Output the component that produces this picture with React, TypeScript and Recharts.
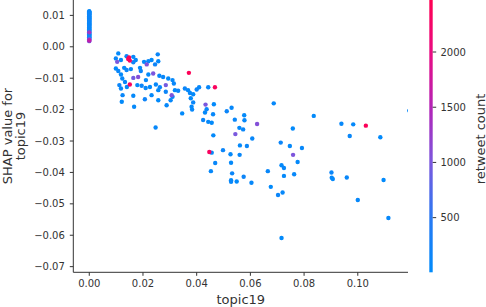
import React from "react";
import { ScatterChart, Scatter, XAxis, YAxis } from "recharts";

// rows with topic19 == 0 (the vertical stripe on the left)
const zeroShap = [
  0.0113, 0.0112, 0.011, 0.0109, 0.0107, 0.0106, 0.0104, 0.0102, 0.0101, 0.0099,
  0.0097, 0.0096, 0.0094, 0.0092, 0.0091, 0.0089, 0.0087, 0.0086, 0.0084, 0.0082,
  0.008, 0.0079, 0.0077, 0.0075, 0.0073, 0.0071, 0.007, 0.0068, 0.0066, 0.0064,
  0.0062, 0.006, 0.0058, 0.0056, 0.0054, 0.0052, 0.005, 0.0048, 0.0046, 0.0044,
  0.0042, 0.004, 0.0038, 0.0036, 0.0034, 0.0032, 0.003, 0.0028, 0.0026, 0.0024,
  0.0022, 0.002, 0.0018,
];
const zeroRetweets = [
  40, 85, 120, 60, 30, 150, 75, 95, 50, 110,
  65, 140, 35, 90, 55, 125, 70, 45, 160, 80,
  100, 38, 130, 62, 88, 47, 115, 73, 28, 135,
  58, 92, 42, 105, 68, 145, 33, 86, 1300, 52,
  118, 77, 39, 98, 64, 155, 83, 49, 112, 900,
  1200, 1600, 900,
];

// rows with topic19 > 0
const topic19 = [
  0.0108, 0.0099, 0.0104, 0.0118, 0.0139, 0.0145, 0.0151, 0.0148, 0.0164, 0.0173,
  0.0164, 0.0204, 0.0214, 0.022, 0.0232, 0.0255, 0.0257, 0.0245, 0.0099, 0.0108,
  0.013, 0.0139, 0.0155, 0.0189, 0.0192, 0.0118, 0.0123, 0.0133, 0.0164, 0.0182,
  0.022, 0.0238, 0.0261, 0.0275, 0.0294, 0.031, 0.0285, 0.0307, 0.0315, 0.0151,
  0.0179, 0.0195, 0.021, 0.0226, 0.0248, 0.0112, 0.014, 0.0118, 0.0257, 0.0285,
  0.0232, 0.031, 0.0257, 0.0288, 0.0124, 0.0164, 0.0207, 0.0121, 0.0167, 0.0356,
  0.0346, 0.0247, 0.0211, 0.0263, 0.0319, 0.0303, 0.0331, 0.0371, 0.0368, 0.0375,
  0.0387, 0.04, 0.0409, 0.0443, 0.0468, 0.0378, 0.0387, 0.0381, 0.0383, 0.0433,
  0.0437, 0.0431, 0.0464, 0.0461, 0.0424, 0.0443, 0.0456, 0.0512, 0.053, 0.0542,
  0.0577, 0.0578, 0.0625, 0.0559, 0.0573, 0.0544, 0.0462, 0.0607, 0.0687, 0.0758,
  0.0713, 0.0747, 0.0792, 0.0561, 0.0587, 0.0836, 0.0939, 0.0983, 0.103, 0.097,
  0.1084, 0.1192, 0.0498, 0.0526, 0.056, 0.0447, 0.0456, 0.0759, 0.0469, 0.0528,
  0.0453, 0.0532, 0.0528, 0.0528, 0.0549, 0.0575, 0.0604, 0.0665, 0.0676, 0.0716,
  0.0725, 0.0725, 0.072, 0.0703, 0.0776, 0.0763, 0.0716, 0.0902, 0.0903, 0.0907,
  0.0959, 0.1, 0.1096, 0.1114,
];
const shapValues = [
  -0.0021, -0.0037, -0.0048, -0.0042, -0.003, -0.0039, -0.0044, -0.0034, -0.0032, -0.0042,
  -0.0049, -0.0048, -0.0056, -0.0046, -0.0042, -0.0024, -0.0046, -0.0056, -0.0069, -0.0077,
  -0.0067, -0.0074, -0.0071, -0.0067, -0.0077, -0.0088, -0.0101, -0.0112, -0.0099, -0.0096,
  -0.0088, -0.0085, -0.0092, -0.0096, -0.0101, -0.0106, -0.0122, -0.0154, -0.0117, -0.012,
  -0.0122, -0.0124, -0.0131, -0.0128, -0.012, -0.0122, -0.0128, -0.0133, -0.0138, -0.0143,
  -0.0154, -0.0159, -0.017, -0.0186, -0.0154, -0.0156, -0.0167, -0.0175, -0.0191, -0.0133,
  -0.0212, -0.0257, -0.0106, -0.0129, -0.0138, -0.017, -0.014, -0.0083, -0.0138, -0.0147,
  -0.0151, -0.0136, -0.0129, -0.0129, -0.0129, -0.0164, -0.0177, -0.0191, -0.02, -0.0184,
  -0.0199, -0.0209, -0.0183, -0.0215, -0.0233, -0.0239, -0.0242, -0.0205, -0.0194, -0.0232,
  -0.0218, -0.0234, -0.0246, -0.0258, -0.0263, -0.0278, -0.0282, -0.0292, -0.018, -0.026,
  -0.0305, -0.0316, -0.0322, -0.0314, -0.0316, -0.022, -0.0245, -0.0247, -0.0251, -0.0284,
  -0.0288, -0.0203, -0.0329, -0.0342, -0.0344, -0.0335, -0.0337, -0.0344, -0.037, -0.0369,
  -0.0396, -0.0403, -0.0425, -0.043, -0.0429, -0.0414, -0.0433, -0.0396, -0.0446, -0.0377,
  -0.0386, -0.0411, -0.0464, -0.0472, -0.0367, -0.0406, -0.0609, -0.04, -0.0417, -0.0421,
  -0.0416, -0.0488, -0.0424, -0.0545,
];
const retweetCounts = [
  64, 120, 980, 45, 150, 2380, 2290, 2410, 88, 30,
  210, 72, 1050, 95, 40, 130, 58, 180, 25, 110,
  66, 140, 90, 35, 160, 48, 75, 102, 940, 1080,
  55, 1010, 84, 120, 38, 70, 960, 1030, 115, 2330,
  60, 145, 92, 28, 77, 135, 50, 98, 42, 170,
  63, 108, 36, 82, 124, 57, 190, 44, 67, 150,
  33, 90, 71, 118, 26, 86, 140, 2420, 52, 99,
  39, 160, 74, 105, 2360, 46, 132, 61, 88, 1000,
  112, 54, 29, 96, 138, 68, 43, 155, 80, 117,
  37, 93, 1070, 59, 126, 990, 48, 101, 76, 34,
  143, 62, 89, 51, 128, 40, 97, 69, 2400, 113,
  31, 85, 147, 56, 104, 2340, 73, 1020, 121, 47,
  83, 136, 58, 94, 41, 162, 79, 107, 35, 66,
  119, 52, 87, 144, 60, 100, 38, 131, 72, 49,
  115, 81, 27, 95,
];

const xTicks = [0, 0.02, 0.04, 0.06, 0.08, 0.1];
const yTicks = [0.01, 0, -0.01, -0.02, -0.03, -0.04, -0.05, -0.06, -0.07];
const cbarTicks = [500, 1000, 1500, 2000];
const cbarMin = 5;
const cbarMax = 2471;

const font = "DejaVu Sans, sans-serif";
const ink = "#333333";

// shap red_blue-ish colormap
const cmap: [number, number[]][] = [
  [0, [0, 139, 251]],
  [0.2, [40, 121, 243]],
  [0.4, [122, 88, 222]],
  [0.6, [178, 36, 184]],
  [0.8, [232, 12, 132]],
  [1, [255, 0, 82]],
];

function colorFor(v: number) {
  const f = Math.min(1, Math.max(0, (v - cbarMin) / (cbarMax - cbarMin)));
  for (let i = 1; i < cmap.length; i++) {
    const [f1, c1] = cmap[i];
    const [f0, c0] = cmap[i - 1];
    if (f <= f1) {
      const t = (f - f0) / (f1 - f0);
      const c = c0.map((a, k) => Math.round(a + (c1[k] - a) * t));
      return `rgb(${c[0]},${c[1]},${c[2]})`;
    }
  }
  return "rgb(255,0,82)";
}

const points = [
  ...zeroShap.map((y, i) => ({ x: 0, y, retweets: zeroRetweets[i] })),
  ...topic19.map((x, i) => ({ x, y: shapValues[i], retweets: retweetCounts[i] })),
].sort((a, b) => a.retweets - b.retweets);

const fmt = (v: number) =>
  (Math.abs(v) < 1e-9 ? "0.00" : v.toFixed(2)).replace("-", "\u2212");

const plotBottom = 272.3;
const cbarY = (v: number) => plotBottom - ((v - cbarMin) / (cbarMax - cbarMin)) * plotBottom;

export default function App() {
  return (
    <div style={{ position: "absolute", left: 0, top: 0, width: 486, height: 307, background: "#fff" }}>
      <ScatterChart
        width={486}
        height={307}
        margin={{ top: 0, right: 78, bottom: 0, left: 0 }}
        style={{ fontFamily: font }}
      >
        <XAxis
          type="number"
          dataKey="x"
          domain={[-0.00595, 0.1187]}
          ticks={xTicks}
          interval={0}
          allowDataOverflow
          tickFormatter={fmt}
          height={34.7}
          tickSize={3.5}
          tickMargin={4.5}
          axisLine={{ stroke: ink, strokeWidth: 1 }}
          tickLine={{ stroke: ink, strokeWidth: 1 }}
          tick={{ fill: ink, fontSize: 10, fontFamily: font }}
        />
        <YAxis
          type="number"
          dataKey="y"
          domain={[-0.0718, 0.0149]}
          ticks={yTicks}
          interval={0}
          allowDataOverflow
          tickFormatter={fmt}
          width={73.3}
          tickSize={3.5}
          tickMargin={5}
          axisLine={{ stroke: ink, strokeWidth: 1 }}
          tickLine={{ stroke: ink, strokeWidth: 1 }}
          tick={{ fill: ink, fontSize: 10, fontFamily: font }}
        />
        <Scatter
          data={points}
          isAnimationActive={false}
          shape={(p: any) => (
            <circle cx={p.cx} cy={p.cy} r={2.2} fill={colorFor(p.payload.retweets)} />
          )}
        />
      </ScatterChart>
      <svg
        width={486}
        height={307}
        style={{ position: "absolute", left: 0, top: 0, pointerEvents: "none" }}
        fontFamily={font}
      >
        <defs>
          <linearGradient id="cbar" x1="0" y1="1" x2="0" y2="0">
            {cmap.map(([f, c]) => (
              <stop key={f} offset={f} stopColor={`rgb(${c[0]},${c[1]},${c[2]})`} />
            ))}
          </linearGradient>
        </defs>
        <rect x={429.3} y={0} width={3.4} height={plotBottom} fill="url(#cbar)" />
        {cbarTicks.map((t) => (
          <g key={t}>
            <line x1={432.7} x2={436.2} y1={cbarY(t)} y2={cbarY(t)} stroke={ink} />
            <text x={440.5} y={cbarY(t)} dy="0.36em" fontSize={10} fill={ink}>
              {t}
            </text>
          </g>
        ))}
        <text
          x={484.5}
          y={139}
          fontSize={13}
          fill={ink}
          textAnchor="middle"
          transform="rotate(-90 484.5 139)"
        >
          retweet count
        </text>
        <text x={12} y={136} fontSize={13} fill={ink} textAnchor="middle" transform="rotate(-90 12 136)">
          SHAP value for
        </text>
        <text x={25} y={136} fontSize={13} fill={ink} textAnchor="middle" transform="rotate(-90 25 136)">
          topic19
        </text>
        <text x={240.8} y={303.5} fontSize={13} fill={ink} textAnchor="middle">
          topic19
        </text>
      </svg>
    </div>
  );
}
